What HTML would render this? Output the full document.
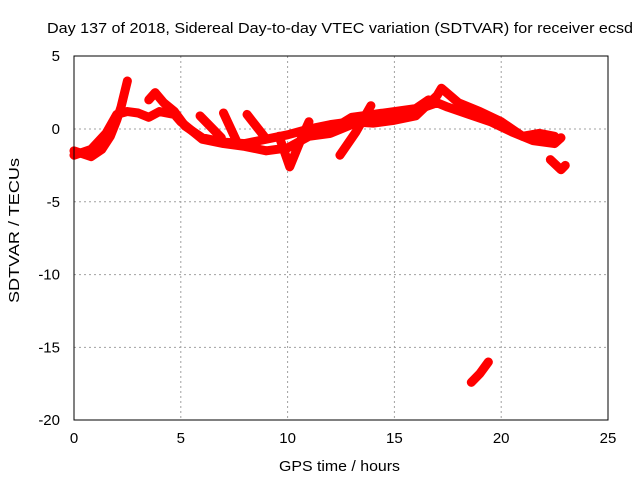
<!DOCTYPE html>
<html><head><meta charset="utf-8"><style>
body{margin:0;background:#fff}
text{font-family:"Liberation Sans",sans-serif;font-size:15px;fill:#000}
</style></head><body>
<svg width="640" height="480" xmlns="http://www.w3.org/2000/svg">
<g id="grid"></g>
<g id="marks"></g>
<rect x="74" y="56" width="534" height="364" fill="none" stroke="#000" stroke-width="1"/>
<g id="axes"></g>
<text x="47" y="33" textLength="586" lengthAdjust="spacingAndGlyphs">Day 137 of 2018, Sidereal Day-to-day VTEC variation (SDTVAR) for receiver ecsd</text>
<text x="279" y="471" textLength="121" lengthAdjust="spacingAndGlyphs">GPS time / hours</text>
<text x="0" y="0" textLength="145" lengthAdjust="spacingAndGlyphs" transform="translate(19 303) rotate(-90)">SDTVAR / TECUs</text>
</svg>
<script>
const xTicks=[0,5,10,15,20,25];
const yTicks=[5,0,-5,-10,-15,-20];
const trackA=[[0,-1.5],[0.8,-1.9],[1.3,-1.4],[1.7,-0.5],[2.0,0.6],[2.2,1.5],[2.5,3.3]];
const trackB=[[0,-1.8],[0.8,-1.4],[1.5,-0.3],[2.0,1],[2.5,1.2],[3.0,1.1],[3.5,0.8],[4,1.2],[4.7,1.0],[5,0.5],[6,-0.7],[7,-1.0],[8,-1.2],[9,-1.5],[10,-1.3],[11,-0.5],[12,-0.3],[13,0.3],[14,0.6],[15,0.8],[16,1.3],[17,1.8],[17.5,1.5],[18.5,1.0],[19.5,0.5],[20.5,-0.2],[21.5,-0.8],[22.5,-1.0],[22.8,-0.6]];
const trackC=[[3.5,2.0],[3.8,2.5],[4.2,1.8],[4.7,1.2],[5.2,0.2],[6,-0.6],[7,-0.9],[8,-1.0],[9,-0.7],[10,-0.4],[11,0],[12,0.3],[13,0.5],[14,0.4],[15,0.6],[16,0.9],[17,2.3],[17.2,2.8],[18,1.8],[19,1.2],[20,0.5],[21,-0.5],[21.8,-0.3],[22.5,-0.5]];
const trackD=[[9.6,-0.5],[10.1,-2.6],[10.6,-0.8],[11,0.5]];
const trackE=[[12.45,-1.8],[13.2,-0.2],[13.9,1.6]];
const trackF=[[11,-0.3],[12,-0.1],[13,0.8],[14,1.0],[15,1.2],[16,1.4],[16.6,2.0]];
const branch1=[[5.9,0.9],[6.9,-0.6]];
const branch2=[[7.0,1.1],[7.6,-0.8]];
const branch3=[[8.1,1.0],[8.9,-0.5]];
const trackG=[[22.3,-2.1],[22.8,-2.8],[23,-2.5]];
const outlier=[[18.6,-17.4],[19.0,-16.8],[19.4,-16.0]];
const tracks=[trackA,trackB,trackC,trackD,trackE,trackF,branch1,branch2,branch3,trackG,outlier];
const X=h=>74+h*(534/25), Y=v=>129-v*(364/25);
const ns="http://www.w3.org/2000/svg";
const grid=document.getElementById('grid'),axes=document.getElementById('axes'),marks=document.getElementById('marks');
xTicks.forEach(t=>{
 if(t>0&&t<25){const l=document.createElementNS(ns,'line');l.setAttribute('x1',X(t));l.setAttribute('x2',X(t));l.setAttribute('y1',56);l.setAttribute('y2',420);l.setAttribute('stroke','#a0a0a0');l.setAttribute('stroke-dasharray','2,3');
 
 grid.appendChild(l);}
 const tx=document.createElementNS(ns,'text');tx.setAttribute('x',X(t));tx.setAttribute('y',443);tx.setAttribute('text-anchor','middle');tx.textContent=t;
 
 axes.appendChild(tx);
});
yTicks.forEach(t=>{
 if(t<5&&t>-20){const l=document.createElementNS(ns,'line');l.setAttribute('x1',74);l.setAttribute('x2',608);l.setAttribute('y1',Y(t));l.setAttribute('y2',Y(t));l.setAttribute('stroke','#a0a0a0');l.setAttribute('stroke-dasharray','2,3');
 
 grid.appendChild(l);}
 const tx=document.createElementNS(ns,'text');tx.setAttribute('x',60);tx.setAttribute('y',Y(t)+5);tx.setAttribute('text-anchor','end');tx.textContent=t;
 
 axes.appendChild(tx);
});
tracks.forEach(tr=>{
 const p=document.createElementNS(ns,'polyline');
 p.setAttribute('points',tr.map(d=>X(d[0])+','+Y(d[1])).join(' '));
 p.setAttribute('fill','none');p.setAttribute('stroke','#ff0000');p.setAttribute('stroke-width','9');p.setAttribute('stroke-linejoin','round');p.setAttribute('stroke-linecap','round');
 
 
 marks.appendChild(p);
});
</script>
</body></html>
